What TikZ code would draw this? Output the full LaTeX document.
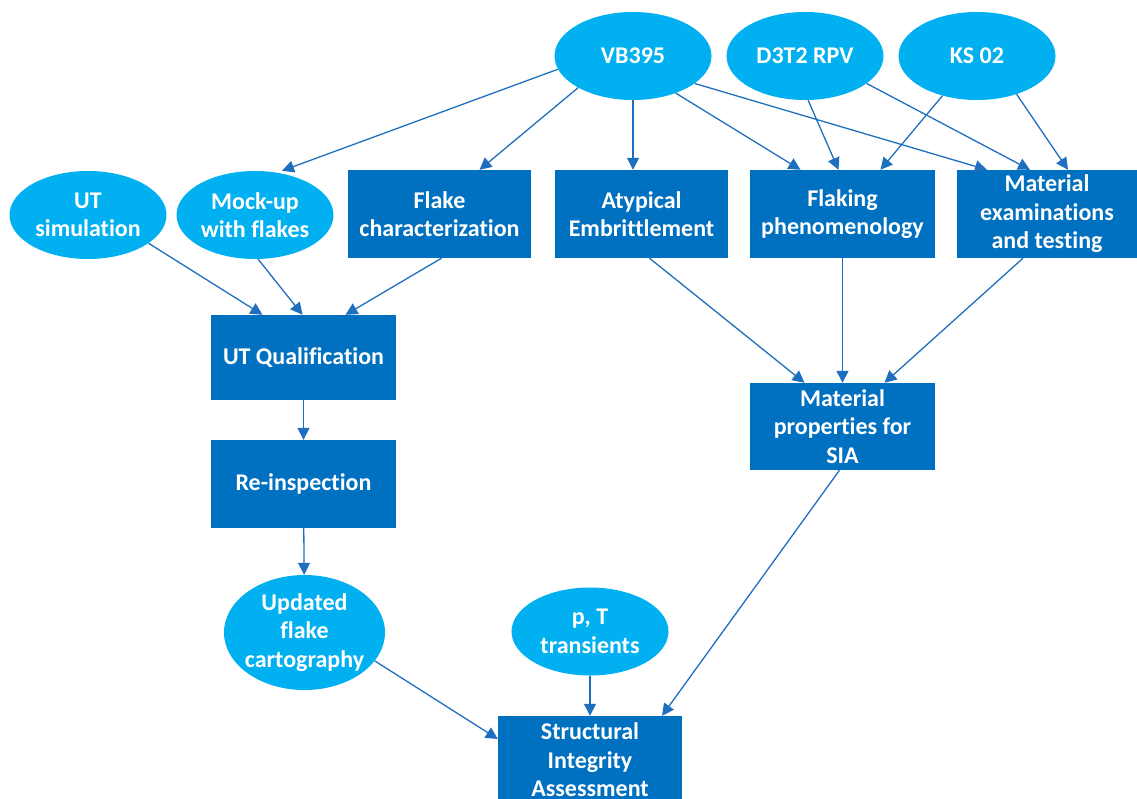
\documentclass[tikz,border=0pt]{standalone}
\usepackage{fontspec}
\setmainfont[Ligatures={NoCommon}]{Carlito}
\usetikzlibrary{shapes.geometric,arrows.meta}
\definecolor{srcblue}{HTML}{00B0F0}
\definecolor{boxblue}{HTML}{0070C0}
\definecolor{linkblue}{HTML}{1F6FBF}

\begin{document}
\begin{tikzpicture}[x=1pt, y=-1pt,
        >={Triangle[length=12pt, width=12pt]},
        src/.style={ellipse, fill=srcblue, text=white, align=center,
            font=\bfseries\fontsize{24}{28.5}\selectfont,
            inner sep=0pt, minimum width=157pt, minimum height=88pt},
        task/.style={rectangle, fill=boxblue, text=white, align=center,
            font=\bfseries\fontsize{24}{28.5}\selectfont,
            inner sep=2pt, minimum width=185pt, minimum height=88pt},
        link/.style={->, draw=linkblue, line width=1.3pt}]
    \useasboundingbox (0,0) rectangle (1137,798);

    % sources
    \node (vb) at (633, 56) [src] {VB395};
    \node (d3) at (805, 56) [src] {D3T2 RPV};
    \node (ks) at (977, 56) [src] {KS 02};
    \node (ut) at (88, 215) [src] {UT\\simulation};
    \node (mock) at (255, 215) [src] {Mock-up\\with flakes};

    % first row of tasks
    \node (flake) at (439.5, 214) [task, minimum width=183pt] {Flake\\characterization};
    \node (atyp) at (641.5, 214) [task, minimum width=173pt] {Atypical\\Embrittlement};
    \node (flak) at (842.5, 214) [task] {Flaking\\phenomenology};
    \node (mat) at (1047, 214) [task, minimum width=180pt] {Material\\examinations\\and testing};

    % inspection chain
    \node (qual) at (303.5, 357.5) [task, minimum height=85pt] {UT Qualification};
    \node (reins) at (303.5, 484) [task] {Re-inspection};
    \node (upd) at (304.5, 632.5) [src, minimum width=161pt, minimum height=115pt,
        inner xsep=-14pt] {Updated\\flake\\cartography};

    % material side
    \node (prop) at (842.5, 426.5) [task, minimum height=87pt] {Material\\properties for\\SIA};
    \node (pt) at (590, 631.5) [src] {p, T\\transients};
    \node (sia) at (590, 760) [task, minimum width=184pt] {Structural\\Integrity\\Assessment};

    \draw[link] (vb.190) to ([xshift=27pt]mock.north);
    \draw[link] (vb.210) to ([xshift=40pt]flake.north);
    \draw[link] (vb.south) to (vb.south |- atyp.north);
    \draw[link] (vb.319) to ([xshift=-42pt]flak.north);
    \draw[link] (vb.336) to ([xshift=-60pt]mat.north);
    \draw[link] (d3.274) to ([xshift=-4pt]flak.north);
    \draw[link] (d3.336) to ([xshift=-17pt]mat.north);
    \draw[link] (ks.229) to ([xshift=38pt]flak.north);
    \draw[link] (ks.316) to ([xshift=21pt]mat.north);

    \draw[link] (ut.335) to ([xshift=-41pt]qual.north);
    \draw[link] (mock.274) to ([xshift=-1pt]qual.north);
    \draw[link] ([xshift=2pt]flake.south) to ([xshift=42pt]qual.north);
    \draw[link] (qual) to (reins);
    \draw[link] (reins) to (upd);

    \draw[link] ([xshift=8pt]atyp.south) to ([xshift=-38pt]prop.north);
    \draw[link] (flak) to (prop);
    \draw[link] ([xshift=-24pt]mat.south) to ([xshift=42pt]prop.north);

    \draw[link] (upd.338) to ([yshift=21pt]sia.west);
    \draw[link] (pt) to (sia);
    \draw[link] ([xshift=-3pt]prop.south) to ([xshift=72pt]sia.north);
\end{tikzpicture}
\end{document}
